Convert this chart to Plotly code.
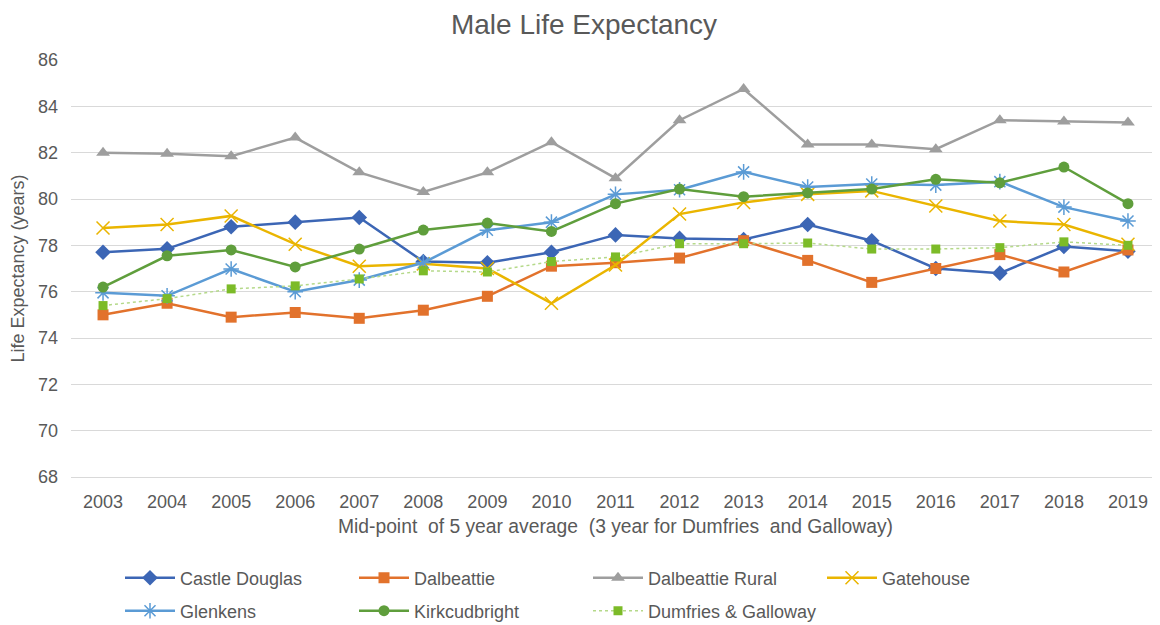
import plotly.graph_objects as go

years = [str(y) for y in range(2003, 2020)]

castle_douglas = [77.7, 77.85, 78.8, 79.0, 79.2, 77.3, 77.25, 77.7, 78.45, 78.3, 78.25, 78.9, 78.2, 77.0, 76.8, 77.95, 77.75]
dalbeattie = [75.0, 75.5, 74.9, 75.1, 74.85, 75.2, 75.8, 77.1, 77.25, 77.45, 78.2, 77.35, 76.4, 77.0, 77.6, 76.85, 77.8]
dalbeattie_rural = [82.0, 81.95, 81.85, 82.65, 81.15, 80.3, 81.15, 82.45, 80.9, 83.4, 84.75, 82.35, 82.35, 82.15, 83.4, 83.35, 83.3]
gatehouse = [78.75, 78.9, 79.27, 78.05, 77.1, 77.2, 77.0, 75.5, 77.15, 79.35, 79.85, 80.2, 80.35, 79.7, 79.05, 78.9, 78.05]
glenkens = [75.95, 75.82, 76.98, 76.0, 76.5, 77.25, 78.65, 79.0, 80.2, 80.4, 81.17, 80.52, 80.65, 80.6, 80.75, 79.65, 79.05]
kirkcudbright = [76.2, 77.55, 77.8, 77.07, 77.84, 78.66, 78.96, 78.6, 79.8, 80.43, 80.1, 80.26, 80.43, 80.85, 80.7, 81.38, 79.8]
dumfries_galloway = [75.4, 75.7, 76.12, 76.25, 76.55, 76.9, 76.85, 77.3, 77.5, 78.07, 78.07, 78.1, 77.84, 77.84, 77.9, 78.15, 78.0]

y_ticks = list(range(68, 87, 2))

FONT = "Liberation Sans, Arial, sans-serif"
GREY = "#595959"

fig = go.Figure()

def add(name, vals, color, symbol, size, legend, marker_line=None, line=None):
    m = dict(symbol=symbol, size=size, color=color)
    if marker_line:
        m["line"] = marker_line
    fig.add_trace(go.Scatter(
        x=years, y=vals, name=name, mode="lines+markers",
        line=line if line else dict(color=color, width=2.5),
        marker=m, legend=legend,
    ))

add("Castle Douglas", castle_douglas, "#3c66b5", "diamond", 12, "legend")
add("Dalbeattie", dalbeattie, "#e2722c", "square", 11, "legend")
add("Dalbeattie Rural", dalbeattie_rural, "#9e9e9e", "triangle-up", 12, "legend")
add("Gatehouse", gatehouse, "#eab500", "x-thin-open", 13, "legend",
    marker_line=dict(color="#eab500", width=1.5))
add("Glenkens", glenkens, "#5b9bd5", "asterisk-open", 13, "legend2",
    marker_line=dict(color="#5b9bd5", width=1.5))
add("Kirkcudbright", kirkcudbright, "#5f9e3c", "circle", 11, "legend2")
add("Dumfries & Galloway", dumfries_galloway, "#7cbb28", "square", 9, "legend2",
    line=dict(color="#b5d98a", width=1.5, dash="dot"))

W, H = 1152, 617
leg_common = dict(orientation="h", xref="container", yref="container",
                  x=112 / W, xanchor="left", yanchor="middle",
                  entrywidth=169, entrywidthmode="pixels", traceorder="normal",
                  font=dict(family=FONT, size=18, color=GREY), itemwidth=50,
                  bgcolor="rgba(0,0,0,0)")

fig.update_layout(
    width=W, height=H,
    margin=dict(l=63, r=0, t=52, b=148),
    paper_bgcolor="white", plot_bgcolor="white",
    font=dict(family=FONT, size=18, color=GREY),
    title=dict(text="Male Life Expectancy", x=0.5, xanchor="center", xref="container",
               y=1 - 16 / H, yanchor="middle", yref="container",
               font=dict(family=FONT, size=28, color=GREY)),
    showlegend=True,
    legend=dict(y=1 - 570 / H, **leg_common),
    legend2=dict(y=1 - 603 / H, **leg_common),
)
fig.update_xaxes(
    type="category", range=[-0.5, 16.5], showgrid=False,
    showline=True, linecolor="#d9d9d9", linewidth=1, ticks="",
    ticklabelstandoff=8,
    tickfont=dict(size=18, color=GREY),
    title=dict(text="Mid-point\u00a0 of 5 year average\u00a0 (3 year for Dumfries\u00a0 and Galloway)",
               font=dict(size=19.3, color=GREY), standoff=8),
)
fig.update_yaxes(
    range=[68, 86], tickvals=y_ticks, showgrid=True, gridcolor="#d9d9d9", gridwidth=1,
    zeroline=False, ticks="", ticklabelstandoff=12,
    tickfont=dict(size=18, color=GREY),
    title=dict(text="Life Expectancy (years)", font=dict(size=18, color=GREY), standoff=8),
)

fig.write_html("out.html")
